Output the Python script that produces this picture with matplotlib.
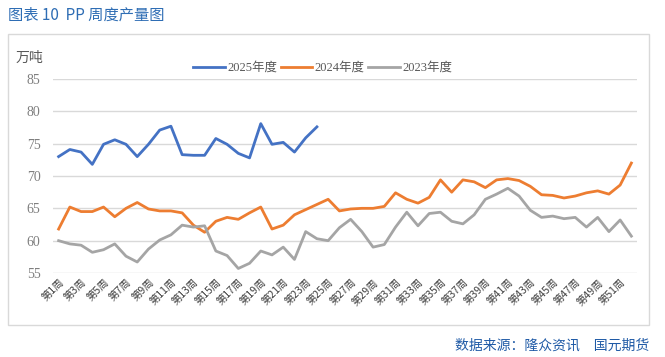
import numpy as np
import matplotlib
matplotlib.use('Agg')
import matplotlib.pyplot as plt
from matplotlib.patches import Rectangle

plt.rcParams['font.family'] = ['Liberation Serif', 'Noto Sans CJK SC', 'DejaVu Sans']

# Weekly PP output, 10k tonnes
weeks = list(range(1, 53))
tick_weeks = list(range(1, 52, 2))
tick_labels = [f'第{w}周' for w in tick_weeks]

y2025 = [73.0, 74.1, 73.7, 71.8, 74.9, 75.6, 74.9, 73.0, 74.9, 77.1, 77.7, 73.3,
         73.2, 73.2, 75.8, 74.9, 73.5, 72.8, 78.1, 74.9, 75.2, 73.7, 75.9, 77.6]

y2024 = [61.8, 65.2, 64.5, 64.5, 65.2, 63.7, 65.0, 65.9, 64.9, 64.6, 64.6, 64.3,
         62.4, 61.3, 63.0, 63.6, 63.3, 64.3, 65.2, 61.8, 62.4, 64.0, 64.8, 65.6,
         66.4, 64.6, 64.9, 65.0, 65.0, 65.3, 67.4, 66.4, 65.8, 66.7, 69.4, 67.5,
         69.4, 69.1, 68.2, 69.4, 69.6, 69.3, 68.4, 67.1, 67.0, 66.6, 66.9, 67.4,
         67.7, 67.2, 68.6, 72.0]

y2023 = [60.0, 59.5, 59.3, 58.2, 58.6, 59.5, 57.6, 56.7, 58.7, 60.1, 60.9, 62.4,
         62.1, 62.3, 58.4, 57.7, 55.7, 56.5, 58.4, 57.8, 59.0, 57.1, 61.4, 60.3,
         60.0, 62.0, 63.3, 61.4, 59.0, 59.4, 62.1, 64.4, 62.3, 64.2, 64.4, 63.0,
         62.6, 64.0, 66.4, 67.2, 68.1, 66.9, 64.7, 63.6, 63.8, 63.4, 63.6, 62.1,
         63.6, 61.4, 63.2, 60.7]

W, H = 665, 357
fig = plt.figure(figsize=(W / 100, H / 100), dpi=100)

# outer frame of the chart
fig.patches.append(Rectangle((8 / W, 1 - 325 / H), (649 - 8) / W, (325 - 34) / H,
                             transform=fig.transFigure, fill=False,
                             edgecolor='#D9D9D9', linewidth=1.0))

ax = fig.add_axes([53 / W, 1 - 273 / H, (637 - 53) / W, (273 - 79) / H])

ax.plot(weeks[:len(y2025)], y2025, color='#4472C4', lw=2.0, label='2025年度', solid_joinstyle='round')
ax.plot(weeks, y2024, color='#ED7D31', lw=2.0, label='2024年度', solid_joinstyle='round')
ax.plot(weeks, y2023, color='#A5A5A5', lw=2.0, label='2023年度', solid_joinstyle='round')

ax.set_xlim(0.5, 52.5)
ax.set_ylim(55, 85)
ax.set_yticks(np.arange(55, 86, 5))
ax.yaxis.grid(True, color='#D9D9D9', lw=1.0)
ax.set_axisbelow(True)
for s in ax.spines.values():
    s.set_visible(False)
ax.tick_params(axis='y', length=0, labelsize=10, labelcolor='#7F7F7F', pad=9)
ax.tick_params(axis='x', length=0, labelsize=7.5, labelcolor='#404040', pad=3)
ax.set_xticks(tick_weeks)
ax.set_xticklabels(tick_labels, rotation=45, ha='right', va='top',
                   rotation_mode='anchor', family=['Noto Sans CJK SC'])

ax.legend(loc='center', bbox_to_anchor=(0.462, 1 + 11 / 194), ncol=3, frameon=False,
          fontsize=9, handlelength=2.5, handletextpad=0.2, columnspacing=0.3,
          labelcolor='#595959', borderaxespad=0.0, borderpad=0.0)

fig.text(16 / W, 1 - 58 / H, '万吨', fontsize=10, color='#595959', va='center',
         family=['Noto Sans CJK SC'], style='italic')
fig.text(8 / W, 1 - 15 / H, '图表 10  PP 周度产量图', fontsize=11, color='#2E6DB4',
         va='center', family=['Noto Sans CJK SC'])
fig.text(649 / W, 1 - 346 / H, '数据来源：隆众资讯　国元期货', fontsize=10,
         color='#1F5AA6', ha='right', va='center', family=['Noto Sans CJK SC'])

fig.savefig('out.png', dpi=100)
